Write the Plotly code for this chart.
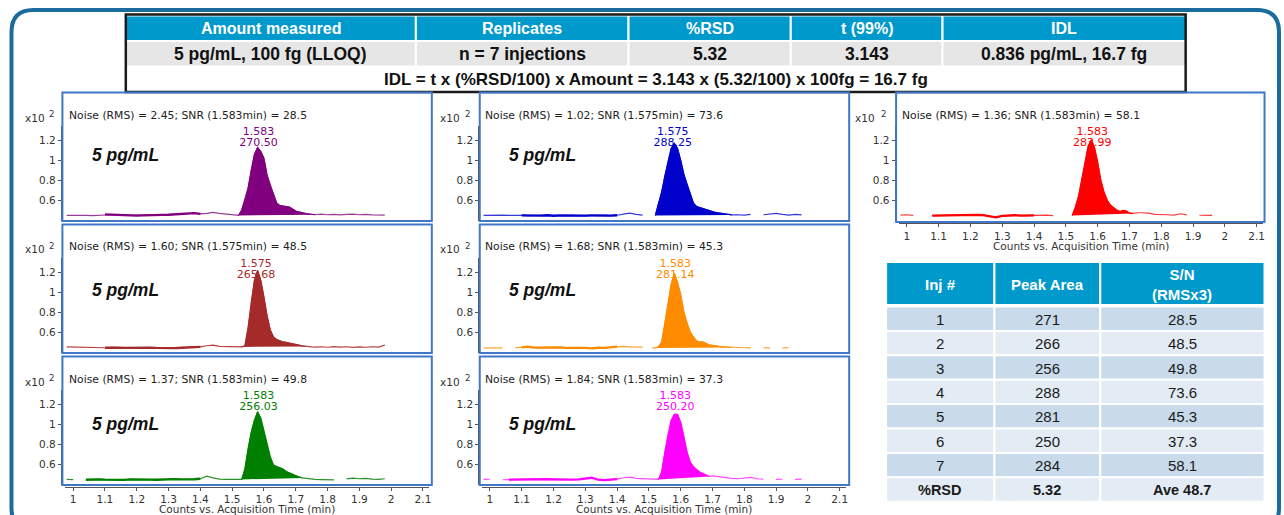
import plotly.graph_objects as go

W, H = 1284, 515

# ------------------------------------------------------------------ data
time_min = [0.98, 1.00, 1.02, 1.04, 1.06, 1.08, 1.10, 1.12, 1.14, 1.16, 1.18, 1.20, 1.22, 1.24,
            1.26, 1.28, 1.30, 1.32, 1.34, 1.36, 1.38, 1.40, 1.42, 1.44, 1.46, 1.48, 1.50,
            1.51, 1.52, 1.53, 1.54, 1.55, 1.56, 1.57, 1.58, 1.59, 1.60, 1.61, 1.62, 1.63,
            1.64, 1.65, 1.66, 1.67, 1.68, 1.69, 1.70, 1.71, 1.72, 1.73, 1.74, 1.75, 1.76,
            1.78, 1.80, 1.82, 1.84, 1.86, 1.88, 1.90, 1.92, 1.94, 1.96, 1.98]

# counts (x10^2) for each injection
counts_inj1 = [0.445, 0.447, 0.442, 0.446, 0.444, 0.448, 0.455, 0.452, 0.448, 0.447, 0.446, 0.444, 0.446, 0.445,
               0.448, 0.450, 0.452, 0.455, 0.458, 0.462, 0.468, 0.460, 0.465, 0.476, 0.466, 0.458, 0.452,
               0.450, 0.445, 0.50, 0.60, 0.72, 0.90, 1.06, 1.13, 1.09, 1.02, 0.85, 0.75, 0.65,
               0.57, 0.545, 0.54, 0.54, 0.53, 0.51, 0.49, 0.48, 0.47, 0.465, 0.46, 0.455, 0.452,
               0.458, 0.452, 0.456, 0.450, 0.455, 0.458, 0.452, 0.455, 0.450, 0.452, 0.448]
counts_inj2 = [0.450, 0.448, 0.446, 0.450, 0.447, 0.445, 0.442, 0.445, 0.443, 0.440, 0.442, 0.439, 0.441, 0.443,
               0.440, 0.438, 0.441, 0.439, 0.442, 0.444, 0.446, 0.450, 0.462, 0.468, 0.455, 0.452, 0.456,
               0.452, 0.449, 0.450, 0.460, 0.64, 0.90, 1.12, 1.22, 1.12, 0.95, 0.76, 0.62, 0.55,
               0.525, 0.51, 0.50, 0.495, 0.49, 0.485, 0.475, 0.468, 0.46, 0.455, 0.452, 0.450, 0.448,
               0.452, 0.447, 0.454, 0.449, 0.452, 0.445, 0.450, 0.447, 0.452, 0.448, 0.468]
counts_inj3 = [0.445, 0.444, None, 0.442, 0.445, 0.446, 0.443, 0.440, 0.436, 0.440, 0.445, 0.447, 0.443, 0.444,
               0.442, 0.445, 0.444, 0.448, 0.445, 0.443, 0.447, 0.452, 0.478, 0.460, 0.448, 0.446, 0.445,
               0.445, 0.444, 0.445, 0.55, 0.76, 0.92, 1.04, 1.125, 1.06, 0.94, 0.80, 0.67, 0.59,
               0.575, 0.565, 0.55, 0.525, 0.51, 0.50, 0.485, 0.47, 0.46, 0.455, 0.450, 0.448, 0.446,
               0.444, 0.443, 0.440, None, 0.450, 0.458, 0.452, 0.455, 0.448, 0.446, 0.452]
counts_inj4 = [0.445, 0.447, 0.446, 0.448, 0.445, 0.447, 0.446, 0.443, 0.445, 0.444, 0.447, 0.442, 0.445, 0.443,
               0.446, 0.441, 0.444, 0.445, 0.443, 0.446, 0.444, 0.447, 0.458, 0.468, 0.456, 0.448, None,
               None, 0.445, 0.55, 0.68, 0.84, 0.98, 1.12, 1.17, 1.12, 1.00, 0.86, 0.76, 0.66,
               0.57, 0.535, 0.525, 0.515, 0.50, 0.49, 0.48, 0.475, 0.47, 0.465, 0.46, 0.455, 0.450,
               0.452, 0.448, 0.455, None, 0.452, 0.458, 0.465, 0.455, 0.448, 0.456, 0.450]
counts_inj5 = [0.440, 0.442, 0.438, 0.440, None, 0.440, 0.445, 0.452, 0.443, 0.445, 0.442, 0.444, 0.446, 0.441,
               0.443, 0.438, 0.441, 0.436, 0.442, 0.440, 0.445, 0.452, 0.455, 0.450, 0.452, 0.448, None,
               0.442, 0.440, 0.450, 0.50, 0.68, 0.86, 1.08, 1.19, 1.10, 0.975, 0.80, 0.69, 0.60,
               0.55, 0.51, 0.50, 0.50, 0.485, 0.47, 0.465, 0.458, 0.455, 0.452, 0.450, 0.448, 0.445,
               0.440, 0.442, 0.440, None, 0.442, 0.440, None, 0.440, 0.442, None, 0.445]
counts_inj6 = [0.445, 0.447, None, 0.442, 0.443, 0.445, 0.444, 0.447, 0.445, 0.450, 0.448, 0.446, 0.444, 0.445,
               0.443, 0.446, 0.455, 0.462, 0.442, 0.438, 0.443, 0.448, 0.462, 0.468, 0.455, 0.452, 0.450,
               0.448, 0.446, 0.445, 0.52, 0.72, 0.90, 1.04, 1.10, 1.10, 1.02, 0.88, 0.72, 0.62,
               0.575, 0.545, 0.52, 0.505, 0.49, 0.475, 0.48, 0.475, 0.47, 0.465, 0.462, 0.458, 0.455,
               0.452, 0.462, 0.465, 0.452, 0.448, None, 0.445, 0.447, None, 0.446, 0.448]
counts_inj7 = [0.448, 0.452, 0.445, None, None, 0.443, 0.445, 0.446, 0.445, 0.446, 0.447, 0.449, 0.450, 0.448,
               0.440, 0.425, 0.440, 0.445, 0.447, 0.444, 0.445, 0.446, 0.450, 0.448, 0.444, None, None,
               None, 0.445, 0.53, 0.64, 0.82, 1.00, 1.14, 1.205, 1.13, 0.98, 0.80, 0.68, 0.60,
               0.55, 0.525, 0.50, 0.485, 0.495, 0.49, 0.47, 0.465, 0.47, 0.472, 0.472, 0.470, 0.468,
               0.455, 0.450, 0.452, 0.448, 0.462, 0.450, None, 0.447, 0.445, 0.446, None]
counts = [counts_inj1, counts_inj2, counts_inj3, counts_inj4, counts_inj5, counts_inj6, counts_inj7]

noise_window = [(1.10, 1.40), (1.10, 1.40), (1.04, 1.40), (1.10, 1.40), (1.10, 1.40), (1.06, 1.40), (1.08, 1.40)]
peak_window = [(1.52, 1.76), (1.53, 1.73), (1.53, 1.72), (1.52, 1.76), (1.52, 1.76), (1.53, 1.69), (1.52, 1.71)]

inj_no = [1, 2, 3, 4, 5, 6, 7]
retention_min = [1.583, 1.575, 1.583, 1.575, 1.583, 1.583, 1.583]
peak_area = [270.50, 265.68, 256.03, 288.25, 281.14, 250.20, 283.99]
noise_rms = [2.45, 1.60, 1.37, 1.02, 1.68, 1.84, 1.36]
snr = [28.5, 48.5, 49.8, 73.6, 45.3, 37.3, 58.1]
peak_area_table = [271, 266, 256, 288, 281, 250, 284]
rsd_area = "5.32"
ave_snr = "Ave 48.7"

top_header = ["Amount measured", "Replicates", "%RSD", "t (99%)", "IDL"]
top_values = ["5 pg/mL, 100 fg (LLOQ)", "n = 7 injections", "5.32", "3.143", "0.836 pg/mL, 16.7 fg"]
formula_text = "IDL = t x (%RSD/100) x Amount = 3.143 x (5.32/100) x 100fg = 16.7 fg"
conc_label = "5 pg/mL"
right_header = ["Inj #", "Peak Area", "S/N<br>(RMSx3)"]

x_tick_vals = [1.0, 1.1, 1.2, 1.3, 1.4, 1.5, 1.6, 1.7, 1.8, 1.9, 2.0, 2.1]
x_tick_text = ["1", "1.1", "1.2", "1.3", "1.4", "1.5", "1.6", "1.7", "1.8", "1.9", "2", "2.1"]
y_tick_vals = [0.6, 0.8, 1.0, 1.2]
y_tick_text = ["0.6", "0.8", "1", "1.2"]
x_title = "Counts vs. Acquisition Time (min)"
y_scale_base, y_scale_exp = "x10", "2"

for s in counts:
    assert len(s) == len(time_min)

# ------------------------------------------------------------------ style / layout
COLORS = ["#800080", "#a52a2a", "#008000", "#0000cd", "#ff8c00", "#ff00ff", "#ff0000"]
THIN = ["#9a3a9a", "#b84040", "#2a902a", "#3838d8", "#ff9f2a", "#ff48ff", "#ff3a3a"]
PANEL_POS = [(0, 0), (0, 1), (0, 2), (1, 0), (1, 1), (1, 2), (2, 0)]   # (col, row)

PANEL_FONT = "DejaVu Sans, Liberation Sans, sans-serif"
TABLE_FONT = "Liberation Sans, Arial, sans-serif"

X_RANGE = [0.975, 2.12]
Y_RANGE = [0.389, 1.344]
COL_XDOM = [(65.3, 430.0), (482.7, 847.4), (900.3, 1265.0)]
COL_YAXIS_X = [61, 479, 896]
BOX_X = [(62.5, 432.5), (480.5, 850.5), (897.5, 1266.5)]
SCALE_X = [(47, 51.5), (463, 468), (878, 885)]   # right edge of "x10", centre of exponent
ROW_STEP = 132
LABEL_Y = (1.280, 1.171)


def px(x):
    return x / W


def py(y):
    return 1 - y / H


fig = go.Figure()
shapes = []
annotations = []


def ann(text, x, y, size, color="#000000", family=TABLE_FONT, xanchor="center"):
    annotations.append(dict(text=text, x=px(x), y=py(y), xref="paper", yref="paper",
                            xanchor=xanchor, yanchor="middle", showarrow=False,
                            font=dict(size=size, color=color, family=family)))


def rect(x0, y0, x1, y1, fill=None, line="white", lw=2):
    d = dict(type="rect", xref="paper", yref="paper", x0=px(x0), x1=px(x1), y0=py(y1), y1=py(y0),
             line=dict(color=line, width=lw))
    if fill:
        d["fillcolor"] = fill
    shapes.append(d)


# ---------- outer rounded frame
fx0, fy0, fx1, fy1, r = 11.5, 10, 1281, 530, 22
pts = [("M", fx0 + r, fy0), ("L", fx1 - r, fy0), ("Q", fx1, fy0, fx1, fy0 + r), ("L", fx1, fy1 - r),
       ("Q", fx1, fy1, fx1 - r, fy1), ("L", fx0 + r, fy1), ("Q", fx0, fy1, fx0, fy1 - r),
       ("L", fx0, fy0 + r), ("Q", fx0, fy0, fx0 + r, fy0)]
path = ""
for p in pts:
    cmd = p[0]
    coords = p[1:]
    seg = " ".join(f"{px(coords[i]):.5f},{py(coords[i + 1]):.5f}" for i in range(0, len(coords), 2))
    path += f"{cmd}{seg} "
shapes.append(dict(type="path", path=path + "Z", xref="paper", yref="paper",
                   line=dict(color="#1b6b9c", width=4)))

# ---------- top table
TT_X = [126, 416.5, 629.5, 792, 944, 1188]
TT_Y = [15.5, 41, 66.5, 92]
for i in range(len(top_header)):
    rect(TT_X[i], TT_Y[0], TT_X[i + 1], TT_Y[1], fill="#0099cc")
    rect(TT_X[i], TT_Y[1], TT_X[i + 1], TT_Y[2], fill="#e6e6e6")
    cx = (TT_X[i] + TT_X[i + 1]) / 2
    ann(f"<b>{top_header[i]}</b>", cx, 28, 16, "#ffffff")
    ann(f"<b>{top_values[i]}</b>", cx, 54, 17.5, "#111111")
ann(f"<b>{formula_text}</b>", (TT_X[0] + TT_X[-1]) / 2, 79.5, 17, "#111111")
rect(TT_X[0], 14.5, TT_X[-1] - 0.5, 92, line="#1a1a1a", lw=2.5)

# ---------- chromatogram panels
layout_axes = {}
for c in range(3):
    xname = "xaxis" if c == 0 else f"xaxis{c + 1}"
    xpos = 223 if c == 2 else 486.5
    layout_axes[xname] = dict(domain=[px(COL_XDOM[c][0]), px(COL_XDOM[c][1])], range=X_RANGE,
                              anchor="free", position=py(xpos), showline=True, linecolor="#555555",
                              linewidth=1, ticks="outside", ticklen=3, tickcolor="#555555",
                              tickvals=x_tick_vals, ticktext=x_tick_text, showgrid=False,
                              zeroline=False, tickfont=dict(size=10.5, color="#333333", family=PANEL_FONT))
    cx = (COL_XDOM[c][0] + COL_XDOM[c][1]) / 2
    ann(x_title, cx, xpos + 22.5, 10.5, "#333333", PANEL_FONT)

for i in range(7):
    c, rr = PANEL_POS[i]
    off = rr * ROW_STEP
    yname = "yaxis" if i == 0 else f"yaxis{i + 1}"
    layout_axes[yname] = dict(domain=[py(221 + off), py(126 + off)], range=Y_RANGE, anchor="free",
                              position=px(COL_YAXIS_X[c]), showline=True, linecolor="#555555",
                              linewidth=1, ticks="outside", ticklen=3, tickcolor="#555555",
                              tickvals=y_tick_vals, ticktext=y_tick_text, showgrid=False,
                              zeroline=False, tickfont=dict(size=10.5, color="#333333", family=PANEL_FONT))
    # panel box
    by1 = (222 if c == 2 else 221) + off
    rect(BOX_X[c][0], 92.5 + off, BOX_X[c][1], by1, line="#3f78c9", lw=2)

    xa = "x" if c == 0 else f"x{c + 1}"
    ya = "y" if i == 0 else f"y{i + 1}"
    ys = counts[i]
    # full (thin) trace
    fig.add_trace(go.Scatter(x=time_min, y=ys, mode="lines", xaxis=xa, yaxis=ya,
                             line=dict(color=THIN[i], width=1.2), connectgaps=False,
                             hoverinfo="skip", showlegend=False))
    # noise region (thick)
    n0, n1 = noise_window[i]
    nx = [t for t in time_min if n0 - 1e-9 <= t <= n1 + 1e-9]
    ny = [ys[k] for k, t in enumerate(time_min) if n0 - 1e-9 <= t <= n1 + 1e-9]
    fig.add_trace(go.Scatter(x=nx, y=ny, mode="lines", xaxis=xa, yaxis=ya,
                             line=dict(color=COLORS[i], width=2.3), connectgaps=False,
                             hoverinfo="skip", showlegend=False))
    # peak label (drawn before the fill so the peak covers it, as in the reference)
    fig.add_trace(go.Scatter(x=[retention_min[i], retention_min[i]], y=list(LABEL_Y), mode="text",
                             text=[f"{retention_min[i]:.3f}", f"{peak_area[i]:.2f}"],
                             textposition="middle center", xaxis=xa, yaxis=ya,
                             textfont=dict(size=11, color=COLORS[i], family=PANEL_FONT),
                             hoverinfo="skip", showlegend=False))
    # integrated peak
    p0, p1 = peak_window[i]
    px_ = [t for k, t in enumerate(time_min) if p0 - 1e-9 <= t <= p1 + 1e-9 and ys[k] is not None]
    py_ = [ys[k] for k, t in enumerate(time_min) if p0 - 1e-9 <= t <= p1 + 1e-9 and ys[k] is not None]
    fig.add_trace(go.Scatter(x=px_, y=py_, mode="lines", fill="toself", fillcolor=COLORS[i],
                             xaxis=xa, yaxis=ya, line=dict(color=COLORS[i], width=1),
                             hoverinfo="skip", showlegend=False))

    # texts
    noise_x = [67, 484, 901][c]
    ann(f"Noise (RMS) = {noise_rms[i]:.2f}; SNR ({retention_min[i]:.3f}min) = {snr[i]}",
        noise_x, 115 + off, 10.8, "#222222", PANEL_FONT, xanchor="left")
    ann(y_scale_base, SCALE_X[c][0], 117.5 + off, 10.5, "#333333", PANEL_FONT, xanchor="right")
    ann(y_scale_exp, SCALE_X[c][1], 114 + off, 8.5, "#333333", PANEL_FONT)
    if c < 2:
        ann(f"<b><i>{conc_label}</i></b>", [126, 543][c], [155, 290, 424][rr], 17.5, "#111111", TABLE_FONT)

# ---------- right summary table
RT_X = [887.5, 996, 1102, 1266.5]
head_y0, head_y1 = 262, 305
row_y0, row_h = 306.5, 24.4
for j in range(3):
    rect(RT_X[j], head_y0, RT_X[j + 1], head_y1, fill="#0099cc")
    ann(f"<b>{right_header[j]}</b>", (RT_X[j] + RT_X[j + 1]) / 2, (head_y0 + head_y1) / 2 + 1, 15, "#ffffff")

body_rows = [[str(inj_no[k]), str(peak_area_table[k]), f"{snr[k]}"] for k in range(7)]
body_rows.append(["<b>%RSD</b>", f"<b>{rsd_area}</b>", f"<b>{ave_snr}</b>"])
for k, row in enumerate(body_rows):
    y0 = row_y0 + k * row_h
    fill = "#c9dbea" if k % 2 == 0 else "#e3ecf4"
    for j in range(3):
        rect(RT_X[j], y0, RT_X[j + 1], y0 + row_h, fill=fill)
        ann(row[j], (RT_X[j] + RT_X[j + 1]) / 2, y0 + row_h / 2 + 0.5, 15 if k < 7 else 14.5,
            "#1a1a1a", TABLE_FONT)

fig.update_layout(width=W, height=H, margin=dict(l=0, r=0, t=0, b=0), autosize=False,
                  paper_bgcolor="white", plot_bgcolor="white", showlegend=False,
                  shapes=shapes, annotations=annotations, **layout_axes)

fig.write_html("out.html", config={"displayModeBar": False})
